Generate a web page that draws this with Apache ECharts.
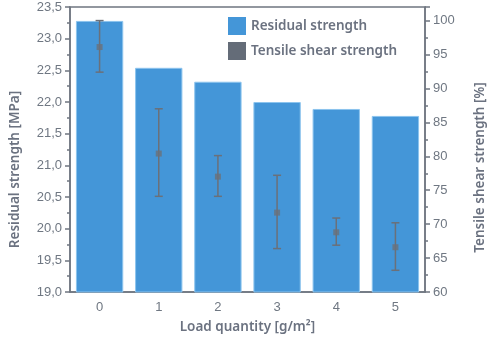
<!DOCTYPE html>
<html><head><meta charset="utf-8">
<script src="https://cdn.jsdelivr.net/npm/echarts@6/dist/echarts.min.js"></script>
<style>html,body{margin:0;padding:0;background:#fff}#c{width:500px;height:339px}</style>
</head><body><div id="c"></div>
<script>
const categories = ['0', '1', '2', '3', '4', '5'];
const residualStrength = [23.28, 22.54, 22.32, 22.0, 21.89, 21.78];
const tensileMean = [96.1, 80.4, 77.0, 71.7, 68.8, 66.6];
const tensileLow = [92.4, 74.1, 74.1, 66.4, 66.9, 63.2];
const tensileHigh = [100.0, 87.0, 80.1, 77.2, 70.9, 70.2];

const txt = '#6b7280';
const axisCol = '#6f7680';
const titleFont = {fontFamily: 'Noto Sans', fontSize: 13.5, fontWeight: 600, color: txt};
const tickFont = {fontFamily: 'Liberation Sans', fontSize: 13, color: '#6f7782'};

const chart = echarts.init(document.getElementById('c'), null, {renderer: 'canvas'});
chart.setOption({
  animation: false,
  grid: {left: 70, right: 75, top: 7, bottom: 46, show: true, borderColor: axisCol, borderWidth: 1.5},
  legend: {
    left: 223, top: 12, orient: 'vertical', itemWidth: 18, itemHeight: 18, itemGap: 7,
    textStyle: {fontFamily: 'Noto Sans', fontSize: 13.5, fontWeight: 600, color: txt},
    itemStyle: {borderWidth: 0},
    data: [
      {name: 'Residual strength', icon: 'rect', itemStyle: {color: '#4496d8', borderWidth: 0}},
      {name: 'Tensile shear strength', icon: 'rect', itemStyle: {color: '#646c78', borderWidth: 0}}
    ]
  },
  xAxis: [{
    type: 'category', data: categories, position: 'bottom',
    name: 'Load quantity [g/m²]', nameLocation: 'middle', nameGap: 28, nameTextStyle: titleFont,
    axisLine: {lineStyle: {color: axisCol, width: 1.5}},
    axisTick: {alignWithLabel: true, length: 4, lineStyle: {color: axisCol, width: 1.5}},
    axisLabel: Object.assign({margin: 9}, tickFont)
  }, {
    type: 'category', data: categories, position: 'bottom', gridIndex: 0,
    axisLine: {show: false}, axisLabel: {show: false},
    axisTick: {length: 3, lineStyle: {color: axisCol, width: 1.5}}
  }],
  yAxis: [{
    type: 'value', min: 19, max: 23.5, interval: 0.5, position: 'left',
    name: 'Residual strength [MPa]', nameLocation: 'middle', nameGap: 48, nameRotate: 90,
    nameTextStyle: Object.assign({padding: [0, 40, 0, 0]}, titleFont),
    axisLine: {show: true, lineStyle: {color: axisCol, width: 1.5}},
    axisTick: {show: true, length: 5, lineStyle: {color: axisCol, width: 1.5}},
    minorTick: {show: true, splitNumber: 2, length: 3, lineStyle: {color: axisCol, width: 1.5}},
    splitLine: {show: false},
    axisLabel: Object.assign({margin: 8, formatter: v => v.toFixed(1).replace('.', ',')}, tickFont)
  }, {
    type: 'value', min: 60, max: 102, interval: 5, position: 'right',
    name: 'Tensile shear strength [%]', nameLocation: 'middle', nameGap: 48, nameRotate: 90,
    nameTextStyle: Object.assign({padding: [0, 36, 0, 0]}, titleFont),
    axisLine: {show: true, lineStyle: {color: axisCol, width: 1.5}},
    axisTick: {show: true, length: 5, lineStyle: {color: axisCol, width: 1.5}},
    minorTick: {show: true, splitNumber: 2, length: 3, lineStyle: {color: axisCol, width: 1.5}},
    splitLine: {show: false},
    axisLabel: Object.assign({margin: 8, showMaxLabel: false}, tickFont)
  }],
  series: [{
    name: 'Residual strength', type: 'bar', data: residualStrength, barCategoryGap: '20%',
    itemStyle: {color: '#4496d8', borderColor: '#8cc4ee', borderWidth: 1}
  }, {
    name: 'Tensile shear strength', type: 'custom', yAxisIndex: 1, z: 5,
    data: categories.map((c, i) => [i, tensileLow[i], tensileHigh[i]]),
    renderItem: (params, api) => {
      const lo = api.coord([api.value(0), api.value(1)]);
      const hi = api.coord([api.value(0), api.value(2)]);
      const hw = 4;
      const st = {stroke: '#6b7079', lineWidth: 1.5};
      return {type: 'group', children: [
        {type: 'line', shape: {x1: lo[0], y1: lo[1], x2: hi[0], y2: hi[1]}, style: st},
        {type: 'line', shape: {x1: lo[0] - hw, y1: lo[1], x2: lo[0] + hw, y2: lo[1]}, style: st},
        {type: 'line', shape: {x1: hi[0] - hw, y1: hi[1], x2: hi[0] + hw, y2: hi[1]}, style: st}
      ]};
    },
    itemStyle: {color: '#646c78'}
  }, {
    name: 'Tensile shear strength', type: 'scatter', yAxisIndex: 1, z: 6,
    data: tensileMean, symbol: 'rect', symbolSize: 6,
    itemStyle: {color: '#6b7079'}
  }]
});
</script></body></html>
